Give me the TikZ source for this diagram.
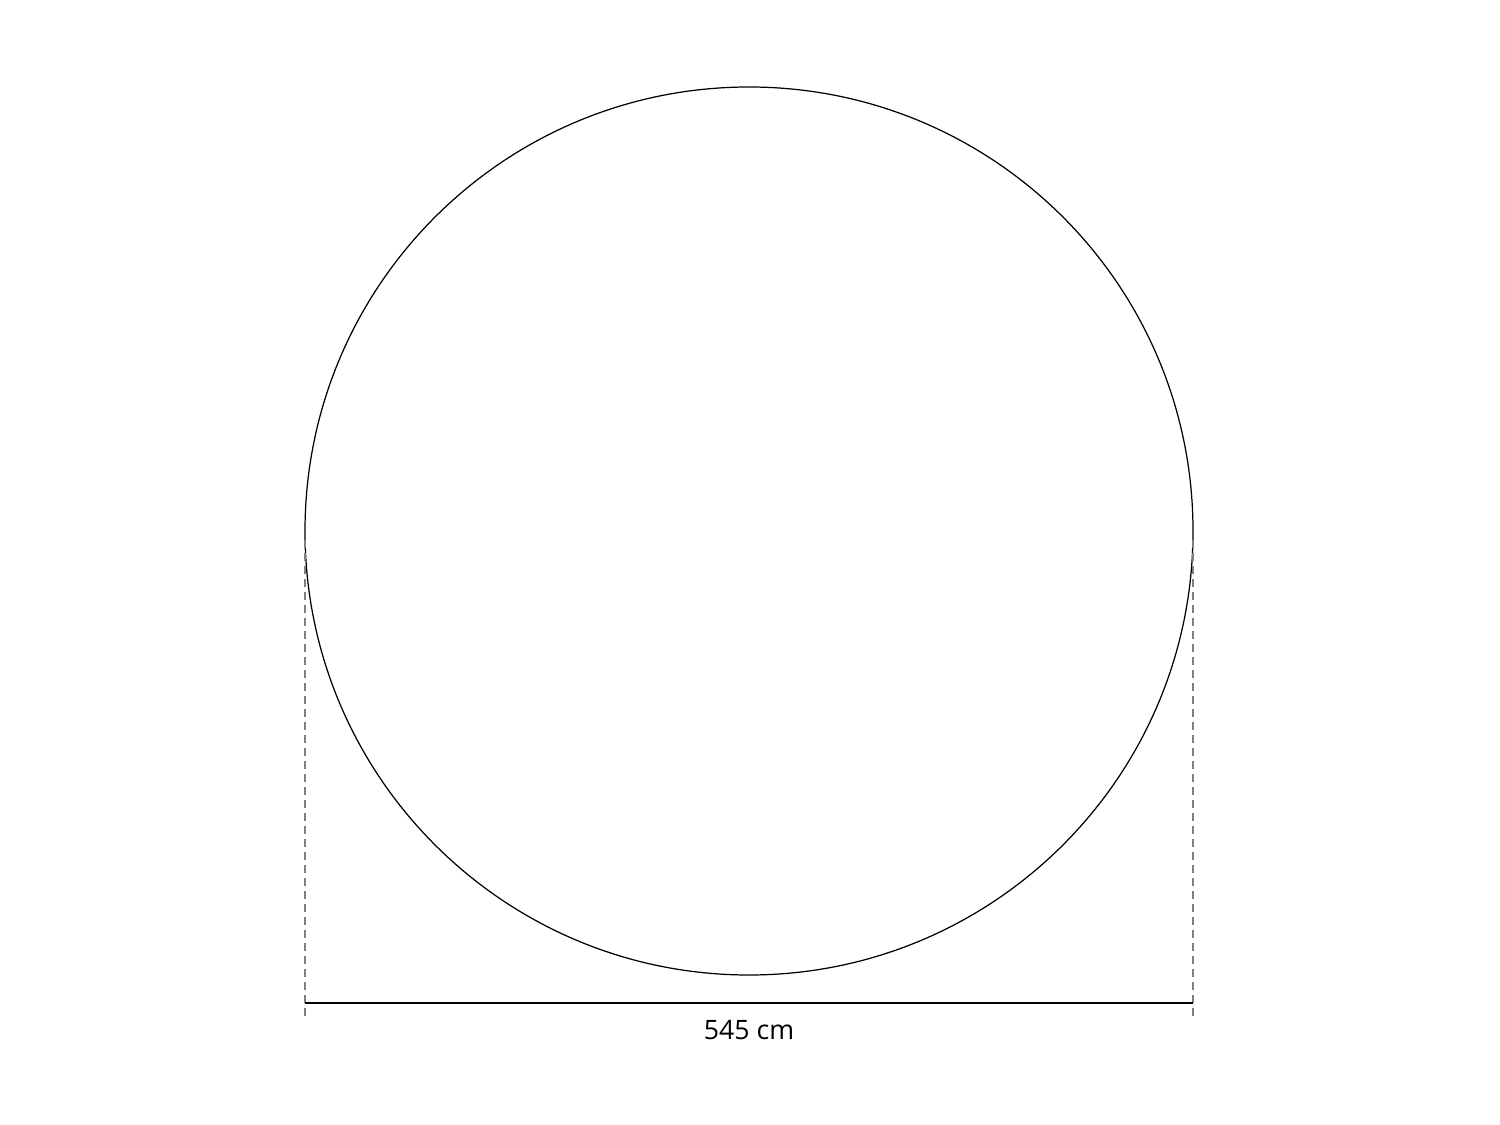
\documentclass[tikz,border=0pt]{standalone}
\usepackage{fontspec}
\setmainfont{Open Sans}
\usetikzlibrary{positioning}
\tikzset{
	dimdash/.style={gray,line width=0.35pt,dash pattern=on 0.08cm off 0.05cm},
	dimline/.style={black,line width=0.45pt}
}
\begin{document}
\begin{tikzpicture}[x=0.01cm,y=-0.01cm]
\useasboundingbox (0,0) rectangle (1500,1125);
\draw[line width=0.35pt] (749,531) circle (444);
\coordinate (lt) at (305,540);
\coordinate (lb) at (305,1019);
\coordinate (rt) at (1193,540);
\coordinate (rb) at (1193,1019);
\draw[dimdash] (lt) -- (lb);
\draw[dimdash] (rt) -- (rb);
\coordinate (dl) at (305,1003);
\coordinate (dr) at (1193,1003);
\draw[dimline] (dl) -- (dr);
\node[font=\fontsize{7.6pt}{9pt}\selectfont,inner sep=0pt] (width) at (749,1030) {545 cm};
\end{tikzpicture}
\end{document}
